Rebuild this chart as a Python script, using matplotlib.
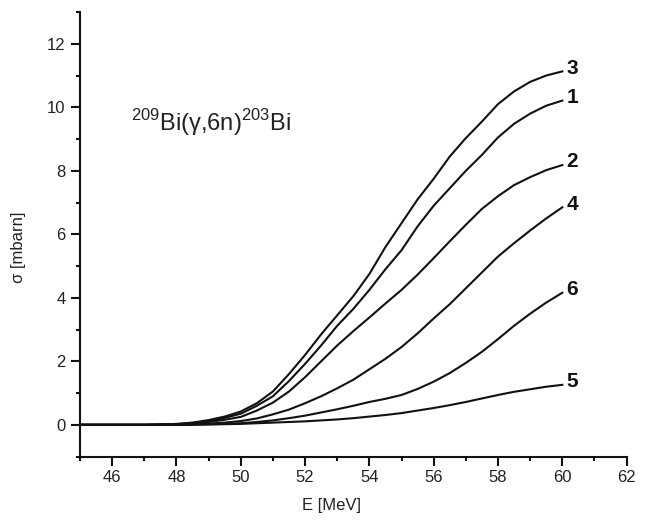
import matplotlib
matplotlib.use("Agg")
import matplotlib.pyplot as plt
from matplotlib.ticker import MultipleLocator

plt.rcParams['font.family'] = ['Liberation Sans', 'DejaVu Sans']
plt.rcParams['mathtext.fontset'] = 'custom'
plt.rcParams['mathtext.rm'] = 'Liberation Sans'

energy = [45, 45.5, 46, 46.5, 47, 47.5, 48, 48.5, 49, 49.5, 50, 50.5, 51, 51.5, 52, 52.5,
          53, 53.5, 54, 54.5, 55, 55.5, 56, 56.5, 57, 57.5, 58, 58.5, 59, 59.5, 60]

sigma_3 = [0, 0, 0, 0, 0, 0.01, 0.03, 0.07, 0.15, 0.26, 0.42, 0.68, 1.05, 1.6, 2.2, 2.85,
           3.45, 4.05, 4.75, 5.6, 6.35, 7.1, 7.75, 8.45, 9.03, 9.55, 10.1, 10.5, 10.8, 11.0, 11.13]
sigma_1 = [0, 0, 0, 0, 0, 0.01, 0.02, 0.06, 0.12, 0.22, 0.35, 0.6, 0.9, 1.38, 1.92, 2.5,
           3.12, 3.65, 4.25, 4.9, 5.5, 6.25, 6.9, 7.45, 8.0, 8.5, 9.05, 9.48, 9.8, 10.05, 10.21]
sigma_2 = [0, 0, 0, 0, 0, 0.005, 0.015, 0.04, 0.09, 0.16, 0.25, 0.45, 0.7, 1.05, 1.5, 2.0,
           2.5, 2.95, 3.38, 3.82, 4.25, 4.73, 5.25, 5.78, 6.3, 6.8, 7.2, 7.55, 7.8, 8.02, 8.18]
sigma_4 = [0, 0, 0, 0, 0, 0, 0.01, 0.02, 0.04, 0.07, 0.12, 0.2, 0.33, 0.48, 0.68, 0.9,
           1.15, 1.42, 1.75, 2.08, 2.45, 2.88, 3.35, 3.8, 4.3, 4.8, 5.3, 5.72, 6.12, 6.5, 6.85]
sigma_6 = [0, 0, 0, 0, 0, 0, 0, 0.01, 0.02, 0.03, 0.05, 0.09, 0.14, 0.21, 0.29, 0.39,
           0.49, 0.6, 0.72, 0.82, 0.94, 1.13, 1.36, 1.63, 1.95, 2.3, 2.7, 3.12, 3.5, 3.85, 4.16]
sigma_5 = [0, 0, 0, 0, 0, 0, 0, 0, 0.01, 0.02, 0.03, 0.05, 0.07, 0.09, 0.11, 0.14,
           0.17, 0.21, 0.26, 0.31, 0.37, 0.45, 0.53, 0.62, 0.72, 0.83, 0.94, 1.04, 1.12, 1.2, 1.26]

curves = [("3", sigma_3), ("1", sigma_1), ("2", sigma_2),
          ("4", sigma_4), ("6", sigma_6), ("5", sigma_5)]

fig = plt.figure(figsize=(6.46, 5.22), dpi=100)
ax = fig.add_axes([0.1238, 0.1253, 0.8462, 0.8517])

for name, sig in curves:
    ax.plot(energy, sig, color='#111111', lw=1.5)
    ax.text(60.12, sig[-1] + 0.1, name, fontsize=15, fontweight='bold',
            va='center', ha='left', color='#111111')

ax.text(49.07, 9.27, r'$^{209}$Bi(γ,6n)$^{203}$Bi', fontsize=17,
        ha='center', va='baseline', color='#222222')

ax.set_xlim(45, 62)
ax.set_ylim(-1, 13)
ax.spines['top'].set_visible(False)
ax.spines['right'].set_visible(False)
for s in ('left', 'bottom'):
    ax.spines[s].set_linewidth(1.5)
    ax.spines[s].set_color('#111111')

ax.xaxis.set_minor_locator(MultipleLocator(1))
ax.yaxis.set_minor_locator(MultipleLocator(1))
ax.set_xticks([46, 48, 50, 52, 54, 56, 58, 60, 62])
ax.set_yticks([0, 2, 4, 6, 8, 10, 12])
ax.tick_params(which='major', direction='out', length=6.5, width=1.5,
               labelsize=12, color='#111111', labelcolor='#222222')
ax.tick_params(which='minor', direction='out', length=3, width=1.5, color='#111111')
ax.tick_params(axis='x', pad=3.5)
ax.tick_params(axis='y', pad=4)

ax.set_xlabel('E [MeV]', fontsize=12, color='#222222')
ax.set_ylabel('σ [mbarn]', fontsize=12, color='#222222')
ax.xaxis.set_label_coords(0.46, -0.093)
ax.yaxis.set_label_coords(-0.099, 0.471)

fig.savefig('out.png', dpi=100)
